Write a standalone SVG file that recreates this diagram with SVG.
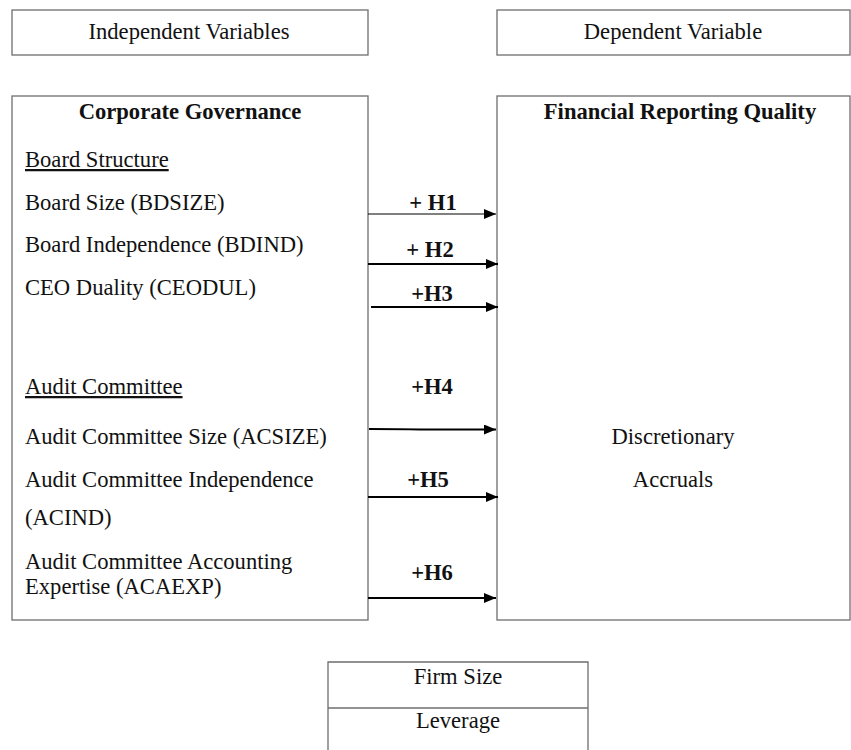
<svg xmlns="http://www.w3.org/2000/svg" width="851" height="750" viewBox="0 0 851 750">
<style>
.box{fill:#fff;stroke:#6e6e6e;stroke-width:1.3}
text{font-family:"Liberation Serif","Times New Roman",serif;font-size:22.6px;fill:#111}
.b{font-weight:bold}
.c{text-anchor:middle}
.u{text-decoration:underline}
.arr{stroke:#000;stroke-width:2;fill:none;marker-end:url(#ah)}
.thin{stroke-width:1}
</style>
<defs>
<marker id="ah" viewBox="0 0 12 10" refX="12" refY="5" markerWidth="12" markerHeight="10" markerUnits="userSpaceOnUse" orient="auto">
<path d="M0,0 L12,5 L0,10 Z" fill="#000"/>
</marker>
</defs>
<rect width="851" height="750" fill="#fff"/>
<g id="indep-header">
<rect class="box" x="12" y="10" width="356" height="45"/>
<text class="c" x="189" y="39">Independent Variables</text>
</g>
<g id="dep-header">
<rect class="box" x="497" y="10" width="353" height="45"/>
<text class="c" x="673" y="39">Dependent Variable</text>
</g>
<g id="corporate-governance">
<rect class="box" x="12" y="96" width="356" height="524"/>
<text class="b c" x="190" y="119">Corporate Governance</text>
<text class="u" x="25" y="167">Board Structure</text>
<text x="25" y="210">Board Size (BDSIZE)</text>
<text x="25" y="252">Board Independence (BDIND)</text>
<text x="25" y="295">CEO Duality (CEODUL)</text>
<text class="u" x="25" y="394">Audit Committee</text>
<text x="25" y="444">Audit Committee Size (ACSIZE)</text>
<text x="25" y="487">Audit Committee Independence</text>
<text x="25" y="525">(ACIND)</text>
<text x="25" y="569">Audit Committee Accounting</text>
<text x="25" y="594">Expertise (ACAEXP)</text>
</g>
<g id="financial-reporting-quality">
<rect class="box" x="497" y="96" width="353" height="524"/>
<text class="b c" x="680" y="119">Financial Reporting Quality</text>
<text class="c" x="673" y="444">Discretionary</text>
<text class="c" x="673" y="487">Accruals</text>
</g>
<g id="controls">
<path class="box" d="M328,750 V662 H588 V750"/>
<line x1="328" y1="708" x2="588" y2="708" stroke="#6e6e6e" stroke-width="1.3"/>
<text class="c" x="458" y="684">Firm Size</text>
<text class="c" x="458" y="728">Leverage</text>
</g>
<g id="connectors">
<line class="arr thin" x1="368" y1="214" x2="496" y2="214"/>
<line class="arr" x1="368" y1="264" x2="498" y2="264"/>
<line class="arr" x1="371" y1="307" x2="498" y2="307"/>
<path class="arr" d="M369,429 Q400,429 420,429.5 L496,429.5"/>
<line class="arr" x1="368" y1="497" x2="498" y2="497"/>
<line class="arr" x1="368" y1="598" x2="496" y2="598"/>
<text class="b c" x="433" y="210">+ H1</text>
<text class="b c" x="430" y="257">+ H2</text>
<text class="b c" x="432" y="301">+H3</text>
<text class="b c" x="432" y="394">+H4</text>
<text class="b c" x="428" y="487">+H5</text>
<text class="b c" x="432" y="580">+H6</text>
</g>
</svg>
